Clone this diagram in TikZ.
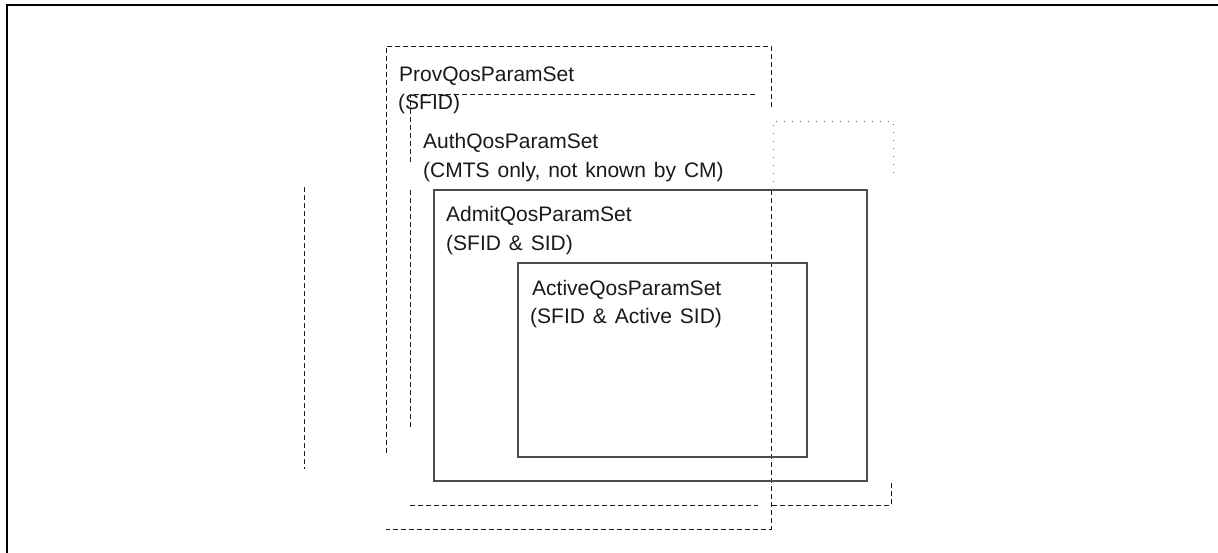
\documentclass[tikz,border=0pt]{standalone}
\usepackage{fontspec}
\setmainfont{Liberation Sans}
\newcommand{\lblfnt}{\fontsize{21}{24}\selectfont\spaceskip=7.9pt plus 0pt minus 0pt\relax}
\begin{document}
\begin{tikzpicture}[x=1pt,y=-1pt,
  lbl/.style={anchor=base west,inner sep=0pt,font=\lblfnt,text=black!90},
  dsh/.style={draw=black!90,line width=1pt,dash pattern=on 5pt off 3pt},
  dts/.style={draw=black!60,line width=1pt,dash pattern=on 1pt off 7pt},
  solidbox/.style={draw=black!70,line width=1.2pt},
  frame/.style={draw=black,line width=2.6pt}]
\useasboundingbox (0,0) rectangle (1218,552);
% outer frame (left and top only)
\draw[frame] (7,553) -- (7,5) -- (1219,5);
% ProvQosParamSet (dashed)
\draw[dsh] (386,453) -- (386,46) -- (771,46) -- (771,107);
\draw[dsh] (771,190) -- (771,529) -- (386,529);
% AuthQosParamSet (dashed)
\draw[dsh] (410,162) -- (410,94) -- (757,94);
\draw[dsh] (410,190) -- (410,428);
\draw[dsh] (410,505) -- (758,505);
\draw[dsh] (772,505) -- (891,505) -- (891,481);
% dotted corner
\draw[dts] (773,182) -- (773,121) -- (893,121) -- (893,180);
% lone dashed vertical
\draw[dsh] (304,187) -- (304,469);
% AdmitQosParamSet and ActiveQosParamSet (solid)
\draw[solidbox] (434,190) rectangle (867,481);
\draw[solidbox] (518,263) rectangle (807,457);
% labels
\node[lbl] (prov1) at (399,81) {ProvQosParamSet};
\node[lbl] (prov2) at (398,109) {(SFID)};
\node[lbl] (auth1) at (423,148) {AuthQosParamSet};
\node[lbl] (auth2) at (423,177) {(CMTS only, not known by CM)};
\node[lbl] (adm1) at (446,221) {AdmitQosParamSet};
\node[lbl] (adm2) at (446,250) {(SFID \& SID)};
\node[lbl] (act1) at (532,295) {ActiveQosParamSet};
\node[lbl] (act2) at (530,323) {(SFID \& Active SID)};
\end{tikzpicture}
\end{document}
